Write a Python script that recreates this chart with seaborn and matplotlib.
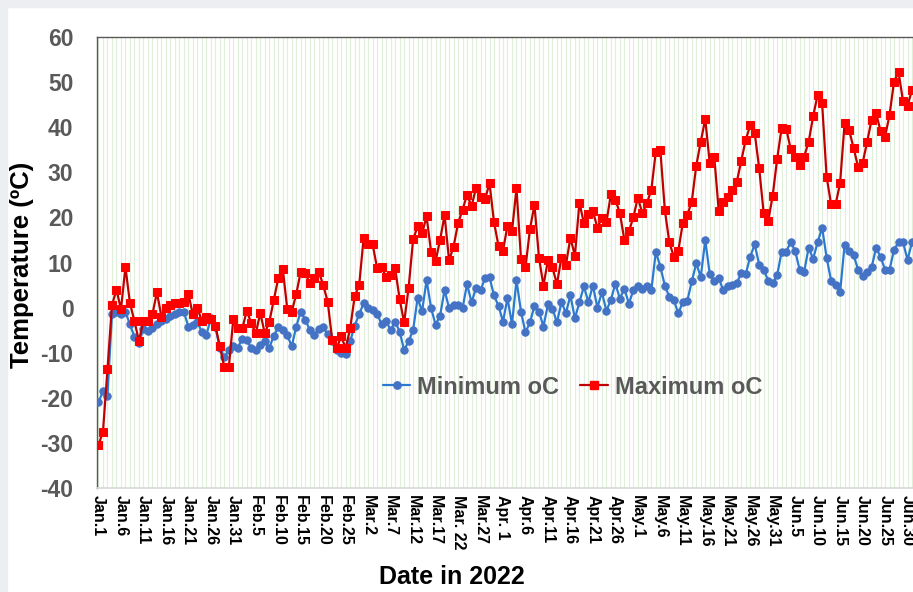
import matplotlib
matplotlib.use("Agg")
import matplotlib.pyplot as plt
import seaborn as sns
import pandas as pd
from matplotlib.patches import Rectangle
from matplotlib.lines import Line2D

tick_labels = ["Jan.1", "Jan.6", "Jan.11", "Jan.16", "Jan.21", "Jan.26", "Jan.31",
               "Feb.5", "Feb.10", "Feb.15", "Feb.20", "Feb.25",
               "Mar.2", "Mar.7", "Mar.12", "Mar.17", "Mar. 22", "Mar.27",
               "Apr. 1", "Apr.6", "Apr.11", "Apr.16", "Apr.21", "Apr.26",
               "May.1", "May.6", "May.11", "May.16", "May.21", "May.26", "May.31",
               "Jun.5", "Jun.10", "Jun.15", "Jun.20", "Jun.25", "Jun.30"]

t_max = [-30.5, -27.5, -13.7, 0.5, 4, -0.4, 9, 1, -3, -7.4,
         -3, -3, -1.5, 3.4, -2, 0, 0.6, 1, 1, 1.2,
         3, -1.5, 0, -3, -2, -2.5, -4, -8.6, -13.2, -13.2,
         -2.5, -4.6, -4.6, -0.7, -3.5, -5.7, -1.2, -5.7, -3.2, 1.7,
         6.5, 8.6, -0.3, -0.9, 3, 8, 7.7, 5.4, 6.5, 8,
         5, 1.3, -7.2, -9, -6.4, -9, -4.6, 2.5, 5, 15.5,
         14, 14, 8.7, 9.1, 6.7, 7.2, 8.7, 1.9, -3.3, 4.4,
         15.1, 18, 16.5, 20.2, 12.4, 10.3, 15, 20.5, 10.5, 13.5,
         18.7, 21.7, 25, 22.5, 26.5, 24.5, 24, 27.6, 18.9, 13.7,
         12.6, 18.2, 16.9, 26.5, 10.8, 8.9, 17.4, 22.8, 11.1, 4.9,
         10.5, 8.9, 5.2, 11.1, 9.5, 15.5, 11.5, 23.3, 18.7, 20.7,
         21.4, 17.7, 19.9, 18.9, 25.1, 23.9, 21, 15, 16.9, 20,
         24.4, 20.9, 23.1, 26.1, 34.6, 35, 21.7, 14.5, 11.3, 12.6,
         18.7, 20.5, 23.5, 31.5, 36.8, 41.8, 32, 33.5, 21.4, 23.5,
         24.6, 26.1, 27.8, 32.5, 37.2, 40.4, 38.7, 30.9, 20.9, 19.2,
         24.8, 33, 39.9, 39.7, 35.2, 33.5, 31.6, 33.5, 36.7, 42.4,
         47.2, 45.3, 29, 22.9, 22.9, 27.6, 40.9, 39.4, 35.4, 31.2,
         32, 36.7, 41.6, 43.1, 39.2, 37.9, 42.7, 50.1, 52.2, 45.8,
         44.8, 48.2]

t_min = [-21, -18.5, -19.5, -1.5, -1, -1.5, -1, -3.7, -6.5, -7.8,
         -4.7, -5.2, -4.5, -3.7, -3, -2.5, -1.9, -1.4, -0.9, -1,
         -4.2, -3.8, -3.1, -5.5, -6.1, -2.4, -4.2, -9, -10.9, -9.5,
         -8.6, -8.9, -6.9, -7.2, -9, -9.4, -8.3, -7.5, -9, -6.2,
         -4.4, -4.9, -6.1, -8.6, -4.2, -0.9, -2.7, -4.9, -6.1, -4.7,
         -4.4, -5.9, -7.5, -9.5, -10, -10.3, -7.5, -4, -1.5, 1,
         0, -0.5, -1.4, -3.7, -3, -5, -3.1, -5.3, -9.4, -7.5,
         -5, 2.1, -0.8, 6.1, -0.1, -3.8, -1.8, 3.9, -0.1, 0.5,
         0.6, -0.1, 5.2, 1.2, 4.3, 3.9, 6.5, 6.7, 2.7, 0.4,
         -3.1, 2.1, -3.7, 6.1, -0.9, -5.5, -3.3, 0.4, -0.9, -4.2,
         0.7, -0.2, -3.3, 1.2, -1.2, 2.7, -2.4, 1.2, 4.7, 1.2,
         4.9, 0, 3.4, -0.7, 1.7, 5.3, 2, 4.2, 0.9, 3.8,
         4.9, 4.2, 4.9, 3.8, 12.4, 9.1, 4.9, 2.4, 1.7, -1.3,
         1.2, 1.5, 5.8, 9.8, 6.8, 15, 7.4, 5.8, 6.6, 3.8,
         4.9, 5.1, 5.4, 7.6, 7.4, 11.3, 14, 9.5, 8.4, 6,
         5.4, 7.2, 12.4, 12.4, 14.5, 12.6, 8.4, 7.9, 13.3, 10.8,
         14.5, 17.7, 11.1, 6, 5.1, 3.4, 13.9, 12.6, 11.7, 8.4,
         6.9, 7.9, 8.9, 13.2, 11.3, 8.4, 8.4, 12.8, 14.5, 14.5,
         10.6, 14.5]

series_names = ["Minimum oC", "Maximum oC"]

sns.set_theme(style="white")
plt.rcParams["font.family"] = ["Liberation Sans", "DejaVu Sans"]
plt.rcParams["axes.unicode_minus"] = False

df = pd.DataFrame({"day": range(len(t_max)), series_names[0]: t_min, series_names[1]: t_max})

W, H = 913, 592
fig = plt.figure(figsize=(W / 100, H / 100), dpi=100, facecolor="white")
gray = "#eceef1"
fig.patches.append(Rectangle((0, 0), 7 / W, 1, transform=fig.transFigure, color=gray, zorder=0))
fig.patches.append(Rectangle((0, 1 - 7 / H), 1, 7 / H, transform=fig.transFigure, color=gray, zorder=0))

ax = fig.add_axes([97 / W, 104 / H, 824 / W, 451 / H])
ax.set_facecolor("white")

blue_line, blue_mk = "#2a7ad3", "#4472c4"
red_line, red_mk = "#c00000", "#ff0000"

sns.lineplot(data=df, x="day", y=series_names[0], ax=ax, color=blue_line, lw=1.6,
             marker="o", markersize=5.3, markerfacecolor=blue_mk, markeredgecolor=blue_mk,
             legend=False, zorder=3)
sns.lineplot(data=df, x="day", y=series_names[1], ax=ax, color=red_line, lw=1.6,
             marker="s", markersize=5.8, markerfacecolor=red_mk, markeredgecolor=red_mk,
             legend=False, zorder=4)

ax.set_xlim(-0.33, 183)
ax.set_ylim(-40, 60)
ax.set_yticks(range(-40, 61, 10))
ax.set_xticks(range(0, 181, 5))
ax.set_xticklabels(tick_labels, rotation=270, fontsize=11.5, fontweight="bold", color="black")
ax.set_xticks(range(0, 184), minor=True)
ax.grid(True, axis="x", which="both", color="#e0efd9", lw=0.8, zorder=0)
ax.grid(False, axis="y")
ax.tick_params(axis="x", which="both", length=0, pad=5)
ax.tick_params(axis="y", length=0, labelsize=16.5, labelcolor="#595959", pad=17)
for lab in ax.get_yticklabels():
    lab.set_fontweight("bold")
ax.set_xlabel("")
ax.set_ylabel("")

for side in ["top", "left"]:
    ax.spines[side].set_color("#595959")
    ax.spines[side].set_linewidth(1.0)
ax.spines["bottom"].set_color("#d9d9d9")
ax.spines["right"].set_visible(False)

fig.text(452 / W, 1 - 577 / H, "Date in 2022", ha="center", va="center",
         fontsize=18, fontweight="bold", color="black")
fig.text(22 / W, 1 - 265 / H, "Temperature (ºC)", ha="center", va="center", rotation=90,
         fontsize=18.5, fontweight="bold", color="black")

handles = [Line2D([], [], color=blue_line, lw=1.6, marker="o", markersize=5.3,
                  markerfacecolor=blue_mk, markeredgecolor=blue_mk),
           Line2D([], [], color=red_line, lw=1.6, marker="s", markersize=5.8,
                  markerfacecolor=red_mk, markeredgecolor=red_mk)]
leg = fig.legend(handles, series_names, loc="center left", bbox_to_anchor=(383 / W, 1 - 387 / H),
                 ncol=2, frameon=False, prop={"weight": "bold", "size": 17},
                 handlelength=1.15, handletextpad=0.3, columnspacing=0.9, borderpad=0,
                 borderaxespad=0)
for t in leg.get_texts():
    t.set_color("#595959")

fig.savefig("out.png", dpi=100, facecolor="white")
